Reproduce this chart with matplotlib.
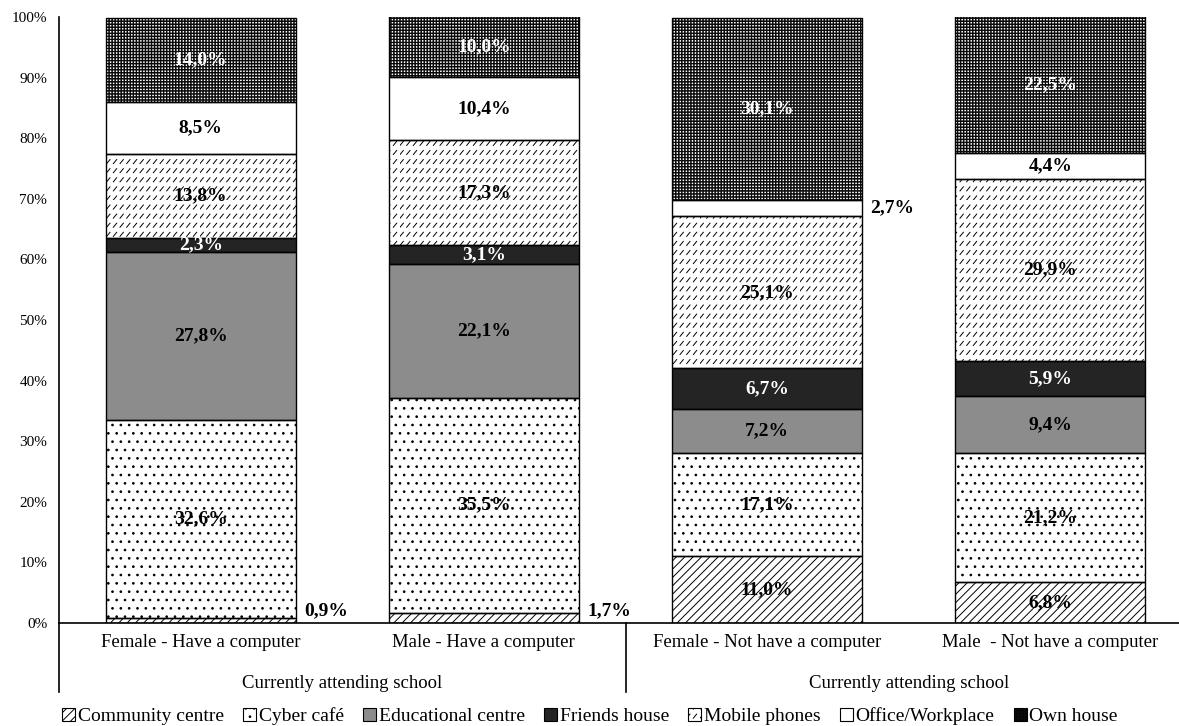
import numpy as np
import matplotlib
matplotlib.use("Agg")
import matplotlib.pyplot as plt
import matplotlib.hatch as mhatch
from matplotlib.path import Path
from matplotlib.patches import Patch

# ---------------------------------------------------------------- data
categories = ["Female - Have a computer", "Male - Have a computer",
              "Female - Not have a computer", "Male  - Not have a computer"]
group_labels = ["Currently attending school", "Currently attending school"]
places = ["Community centre", "Cyber café", "Educational centre",
          "Friends house", "Mobile phones", "Office/Workplace", "Own house"]

community_centre = [0.9, 1.7, 11.0, 6.8]
cyber_cafe = [32.6, 35.5, 17.1, 21.2]
educational_centre = [27.8, 22.1, 7.2, 9.4]
friends_house = [2.3, 3.1, 6.7, 5.9]
mobile_phones = [13.8, 17.3, 25.1, 29.9]
office_workplace = [8.5, 10.4, 2.7, 4.4]
own_house = [14.0, 10.0, 30.1, 22.5]

series = [community_centre, cyber_cafe, educational_centre, friends_house,
          mobile_phones, office_workplace, own_house]


# ---------------------------------------------------------------- custom hatches
class DashedDiagonalHatch(mhatch.HatchPatternBase):
    """Rows of short upward-diagonal dashes (selected with '*')."""

    def __init__(self, hatch, density):
        n = hatch.count('*')
        self.rows = 11 * n
        self.cols = 15 * n
        self.num_vertices = self.rows * self.cols * 2

    def set_vertices_and_codes(self, vertices, codes):
        dx = 1.0 / self.cols
        dy = 1.0 / self.rows
        k = 0
        for i in range(self.rows):
            for j in range(self.cols):
                x0 = j * dx
                y0 = i * dy
                vertices[k] = (x0, y0)
                vertices[k + 1] = (x0 + 0.5 * dx, y0 + 0.45 * dy)
                codes[k] = Path.MOVETO
                codes[k + 1] = Path.LINETO
                k += 2


class SquareGridHatch(mhatch.HatchPatternBase):
    """Aligned grid of small filled squares (selected with 'O')."""

    def __init__(self, hatch, density):
        n = hatch.count('O')
        self.rows = 11 * n
        self.num_vertices = self.rows * self.rows * 5

    def set_vertices_and_codes(self, vertices, codes):
        d = 1.0 / self.rows
        s = 0.08 * d
        k = 0
        for i in range(self.rows):
            for j in range(self.rows):
                x0 = j * d + 0.5 * d
                y0 = i * d + 0.5 * d
                vertices[k:k + 5] = [(x0 - s, y0 - s), (x0 + s, y0 - s),
                                     (x0 + s, y0 + s), (x0 - s, y0 + s),
                                     (x0 - s, y0 - s)]
                codes[k:k + 5] = [Path.MOVETO, Path.LINETO, Path.LINETO,
                                  Path.LINETO, Path.CLOSEPOLY]
                k += 5


mhatch._hatch_types = [t for t in mhatch._hatch_types
                       if t not in (mhatch.Stars, mhatch.LargeCircles)]
mhatch._hatch_types += [DashedDiagonalHatch, SquareGridHatch]

# ---------------------------------------------------------------- styles
styles = [
    dict(facecolor="white", hatch="////", hatchcolor="black"),
    dict(facecolor="white", hatch="..", hatchcolor="black"),
    dict(facecolor="#8c8c8c", hatch=None, hatchcolor="black"),
    dict(facecolor="#242424", hatch=None, hatchcolor="black"),
    dict(facecolor="white", hatch="*", hatchcolor="black"),
    dict(facecolor="white", hatch=None, hatchcolor="black"),
    dict(facecolor="#0a0a0a", hatch="OOO", hatchcolor="white"),
]
label_colors = ["black", "black", "black", "white", "black", "black", "white"]
inside_only = [False, False, False, True, False, False, True]

plt.rcParams["font.family"] = ["Liberation Serif", "DejaVu Serif"]
plt.rcParams["hatch.linewidth"] = 0.7

fig = plt.figure(figsize=(11.79, 7.26), dpi=100)
ax = fig.add_axes([59 / 1179, 1 - 623 / 726, (1192 - 59) / 1179, 606 / 726])

x = np.arange(len(categories))
width = 0.67
bottom = np.zeros(len(categories))
for vals, st, name in zip(series, styles, places):
    vals = np.array(vals)
    # fill + pattern, edge drawn in pattern colour
    ax.bar(x, vals, width, bottom=bottom, color=st["facecolor"],
           hatch=st["hatch"], edgecolor=st["hatchcolor"], linewidth=0,
           zorder=2)
    # black outline of each segment
    ax.bar(x, vals, width, bottom=bottom, fill=False, edgecolor="black",
           linewidth=1.0, zorder=3)
    bottom += vals

# ---------------------------------------------------------------- value labels
lab_fs = 14
bottom = np.zeros(len(categories))
for si, vals in enumerate(series):
    for ci, v in enumerate(vals):
        txt = f"{v:.1f}%".replace(".", ",")
        mid = bottom[ci] + v / 2
        if v < 3 and not inside_only[si]:
            ax.text(x[ci] + width / 2 + 0.03, max(mid, 2.0), txt,
                    ha="left", va="center", fontsize=lab_fs,
                    fontweight="bold", color="black", zorder=5)
        else:
            ax.text(x[ci], mid, txt, ha="center", va="center",
                    fontsize=lab_fs, fontweight="bold",
                    color=label_colors[si], zorder=5)
    bottom += np.array(vals)

# ---------------------------------------------------------------- axes
ax.set_xlim(-0.5, len(categories) - 0.5)
ax.set_ylim(0, 100)
ax.set_yticks(np.arange(0, 101, 10))
ax.set_yticklabels([f"{t}%" for t in range(0, 101, 10)], fontsize=11)
ax.tick_params(axis="y", length=0, pad=8.5)
ax.set_xticks(x)
ax.set_xticklabels(categories, fontsize=13.5)
ax.tick_params(axis="x", length=0, pad=8)
for s in ("top", "right"):
    ax.spines[s].set_visible(False)
ax.spines["left"].set_linewidth(1.2)
ax.spines["bottom"].set_linewidth(1.2)

# group separators below the axis
trans = ax.get_xaxis_transform()
drop = -(692 - 623) / 606
for xp in (-0.5, 1.5):
    ax.plot([xp, xp], [0, drop], color="black", lw=1.2, transform=trans,
            clip_on=False)
for gi, gl in enumerate(group_labels):
    ax.text(2 * gi + 0.5, -(683 - 623) / 606, gl, transform=trans,
            ha="center", va="center", fontsize=13.5)

# ---------------------------------------------------------------- legend
handles = [Patch(facecolor=st["facecolor"], hatch=st["hatch"],
                 edgecolor="black", linewidth=0.8, label=p)
           for st, p in zip(styles, places)]
fig.legend(handles=handles, loc="center", bbox_to_anchor=(590 / 1179, 1 - 716 / 726),
           ncol=7, frameon=False, fontsize=14, handlelength=0.65,
           handleheight=0.65, handletextpad=0.15, columnspacing=1.0,
           borderaxespad=0)

fig.savefig("out.png", dpi=100)
